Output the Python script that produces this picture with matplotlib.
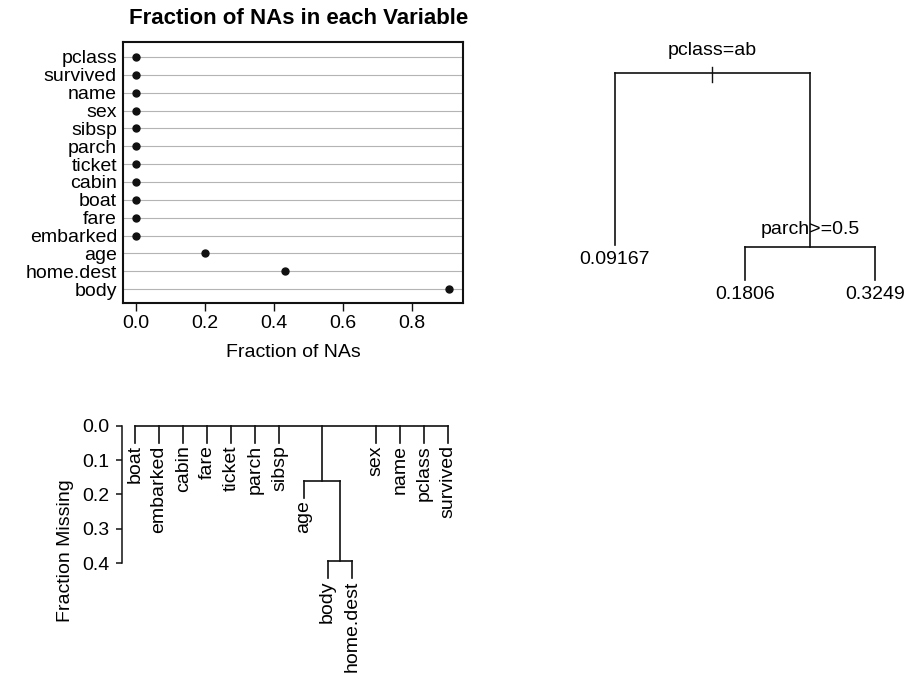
import matplotlib
matplotlib.use('Agg')
import matplotlib.pyplot as plt

plt.rcParams['font.family'] = ['Liberation Sans', 'DejaVu Sans']
plt.rcParams['font.size'] = 14

# fraction of NAs per variable (top to bottom)
na_vars = ['pclass', 'survived', 'name', 'sex', 'sibsp', 'parch', 'ticket',
           'cabin', 'boat', 'fare', 'embarked', 'age', 'home.dest', 'body']
na_frac = [0.0, 0.0, 0.0, 0.0, 0.0, 0.0, 0.0, 0.0, 0.0, 0.0008, 0.0015,
           0.201, 0.431, 0.908]

# rpart tree: split labels, leaf labels, node heights
split_labels = ['pclass=ab', 'parch>=0.5']
split_heights = [1.0, 0.16]
leaf_labels = ['0.09167', '0.1806', '0.3249']
leaf_heights = [0.17, 0.0, 0.0]
# root -> (leaf 0, split 1 -> (leaf 1, leaf 2))
rpart_tree = ('s', 0, [('l', 0), ('s', 1, [('l', 1), ('l', 2)])])

# naclus dendrogram: (merge height, children)
clus_leaves = ['boat', 'embarked', 'cabin', 'fare', 'ticket', 'parch', 'sibsp',
               'age', 'body', 'home.dest', 'sex', 'name', 'pclass', 'survived']
clus_tree = (0.0, ['boat', 'embarked', 'cabin', 'fare', 'ticket', 'parch', 'sibsp',
                   (0.16, ['age', (0.395, ['body', 'home.dest'])]),
                   'sex', 'name', 'pclass', 'survived'])
hang = 0.05

W, H = 908, 674


def px(l, t, r, b):
    return [l / W, 1 - b / H, (r - l) / W, (b - t) / H]


fig = plt.figure(figsize=(W / 100, H / 100), dpi=100)
ink = '#111111'

# ---- dot chart ----
ax1 = fig.add_axes(px(123, 42, 463, 303))
ypos = list(range(len(na_vars), 0, -1))
for y in ypos:
    ax1.axhline(y, color='#b4b4b4', lw=0.8, zorder=1)
ax1.plot(na_frac, ypos, 'o', color=ink, ms=5, zorder=3)
ax1.set_xlim(-0.037, 0.948)
ax1.set_ylim(0.22, len(na_vars) + 0.84)
ax1.set_yticks(ypos)
ax1.set_yticklabels(na_vars)
ax1.set_xticks([0, 0.2, 0.4, 0.6, 0.8])
ax1.set_xticklabels(['0.0', '0.2', '0.4', '0.6', '0.8'])
ax1.tick_params(axis='y', length=0, pad=4.3)
ax1.tick_params(axis='x', direction='out', length=6, width=1, pad=3, color=ink)
for s in ax1.spines.values():
    s.set_linewidth(1.5)
    s.set_color(ink)
ax1.text(0.5, -(353 - 303) / 261, 'Fraction of NAs', transform=ax1.transAxes,
         ha='center', va='center')
fig.text(299 / W, 1 - 18 / H, 'Fraction of NAs in each Variable',
         ha='center', va='center', fontsize=16, fontweight='bold')

# ---- rpart tree ----
ax2 = fig.add_axes(px(550, 40, 905, 310))
ax2.set_xlim(0.5, 3.2308)
ax2.set_ylim(-0.145, 1.159)
ax2.axis('off')

counter = [0]


def place(node):
    if node[0] == 'l':
        counter[0] += 1
        return counter[0], leaf_heights[node[1]]
    xs = [place(c) for c in node[2]]
    h = split_heights[node[1]]
    x = (xs[0][0] + xs[-1][0]) / 2
    ax2.plot([xs[0][0], xs[-1][0]], [h, h], color=ink, lw=1.2)
    for cx, ch in xs:
        ax2.plot([cx, cx], [h, ch], color=ink, lw=1.2)
    for c, (cx, ch) in zip(node[2], xs):
        if c[0] == 'l':
            ax2.annotate(leaf_labels[c[1]], (cx, ch), xytext=(0, -10.5),
                         textcoords='offset points', ha='center', va='center')
    ax2.annotate(split_labels[node[1]], (x, h), xytext=(0, 12.5 if node[1] else 16.5),
                 textcoords='offset points', ha='center', va='center')
    if node[1] == 0:
        ax2.plot([x, x], [h - 0.043, h + 0.029], color=ink, lw=1.0)
    return x, h


place(rpart_tree)

# ---- naclus dendrogram ----
ax3 = fig.add_axes(px(122, 415, 470, 674))
ax3.set_xlim(0.46, 14.914)
ax3.set_ylim(0.724, -0.032)
for k in ['top', 'right', 'bottom']:
    ax3.spines[k].set_visible(False)
ax3.spines['left'].set_bounds(0, 0.4)
ax3.spines['left'].set_linewidth(1.1)
ax3.spines['left'].set_color(ink)
ax3.set_xticks([])
ax3.set_yticks([0, 0.1, 0.2, 0.3, 0.4])
ax3.set_yticklabels(['0.0', '0.1', '0.2', '0.3', '0.4'])
ax3.tick_params(axis='y', direction='out', length=4, width=1.1, pad=5, color=ink)
ax3.patch.set_visible(False)


def dendro(node):
    h, kids = node
    xs = []
    for c in kids:
        if isinstance(c, str):
            x = clus_leaves.index(c) + 1
            ax3.plot([x, x], [h, h + hang], color=ink, lw=1.2)
            ax3.text(x, h + hang + 0.006, c, rotation=90, ha='center', va='top')
        else:
            x, ch = dendro(c)
            ax3.plot([x, x], [h, ch], color=ink, lw=1.2)
        xs.append(x)
    ax3.plot([min(xs), max(xs)], [h, h], color=ink, lw=1.2)
    return (xs[0] + xs[-1]) / 2, h


dendro(clus_tree)
fig.text(65 / W, 1 - 551 / H, 'Fraction Missing', rotation=90, ha='center', va='center')

fig.savefig('out.png', dpi=100)
